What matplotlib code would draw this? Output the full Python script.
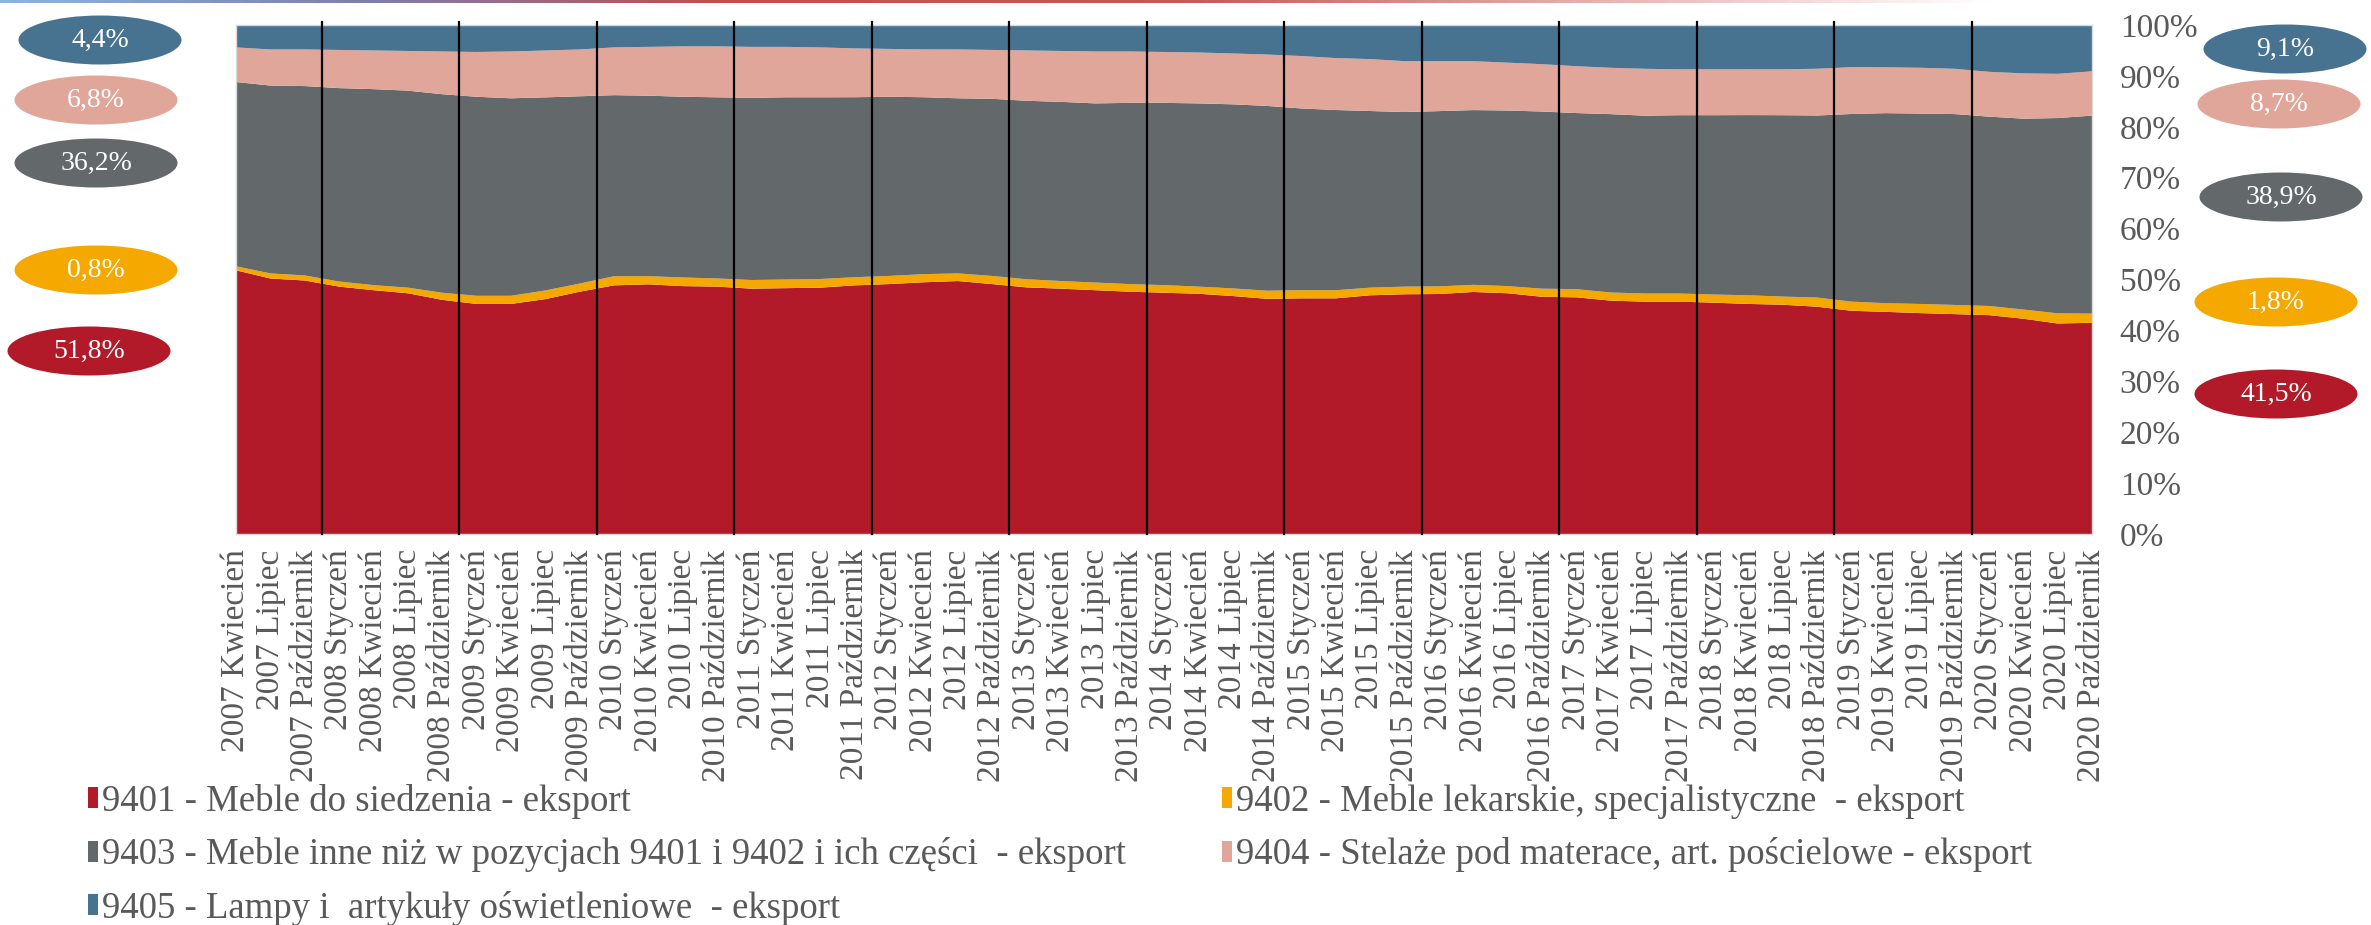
"""Export structure of furniture (HS 9401-9405), quarterly shares 2007-2020."""

import matplotlib
matplotlib.use("Agg")
import matplotlib.pyplot as plt
import numpy as np
from matplotlib.colors import LinearSegmentedColormap
from matplotlib.patches import Ellipse, Rectangle

W, H = 2371, 925

MONTHS = ["Styczeń", "Kwiecień", "Lipiec", "Październik"]
QUARTERS = [f"{y} {m}" for y in range(2007, 2021) for m in MONTHS][1:]

SERIES = [
    "9401 - Meble do siedzenia - eksport",
    "9402 - Meble lekarskie, specjalistyczne  - eksport",
    "9403 - Meble inne niż w pozycjach 9401 i 9402 i ich części  - eksport",
    "9404 - Stelaże pod materace, art. pościelowe - eksport",
    "9405 - Lampy i  artykuły oświetleniowe  - eksport",
]

# shares in %
S9401 = [51.8, 50.2, 49.8, 48.6, 47.9, 47.3, 46.0, 45.2, 45.2, 46.1,
         47.6, 48.9, 49.1, 48.7, 48.6, 48.2, 48.3, 48.4, 48.9, 49.1,
         49.5, 49.7, 49.1, 48.5, 48.2, 47.9, 47.6, 47.4, 47.2, 46.8,
         46.2, 46.3, 46.3, 46.9, 47.1, 47.1, 47.5, 47.3, 46.6, 46.5,
         45.8, 45.6, 45.6, 45.4, 45.2, 45.0, 44.7, 43.9, 43.6, 43.4,
         43.2, 43.0, 42.3, 41.4, 41.5]
S9402 = [0.8, 1.0, 1.0, 1.0, 1.0, 1.1, 1.4, 1.6, 1.6, 1.7,
         1.6, 1.8, 1.6, 1.7, 1.6, 1.7, 1.7, 1.7, 1.6, 1.6,
         1.6, 1.5, 1.6, 1.6, 1.5, 1.5, 1.5, 1.5, 1.4, 1.5,
         1.6, 1.6, 1.6, 1.5, 1.5, 1.5, 1.4, 1.4, 1.6, 1.6,
         1.6, 1.6, 1.6, 1.6, 1.7, 1.6, 1.8, 1.8, 1.7, 1.8,
         1.8, 1.8, 1.8, 2.0, 1.8]
S9403 = [36.2, 36.9, 37.2, 38.0, 38.5, 38.7, 39.0, 39.1, 38.8, 37.9,
         36.8, 35.6, 35.5, 35.5, 35.6, 35.8, 35.8, 35.7, 35.4, 35.2,
         34.8, 34.4, 34.8, 35.1, 35.2, 35.2, 35.6, 35.8, 36.0, 36.2,
         36.3, 35.7, 35.4, 34.7, 34.3, 34.4, 34.3, 34.5, 34.8, 34.6,
         35.0, 34.9, 35.0, 35.2, 35.4, 35.6, 35.8, 36.9, 37.3, 37.4,
         37.5, 37.2, 37.5, 38.4, 38.9]
S9404 = [6.8, 7.1, 7.2, 7.5, 7.6, 7.8, 8.4, 8.8, 9.2, 9.2,
         9.2, 9.4, 9.6, 9.9, 10.0, 10.0, 9.9, 9.8, 9.6, 9.4,
         9.4, 9.6, 9.6, 9.9, 10.0, 10.2, 10.1, 10.0, 10.0, 10.0,
         10.1, 10.3, 10.2, 10.2, 10.0, 9.8, 9.6, 9.4, 9.3, 9.2,
         9.1, 9.2, 9.0, 9.0, 9.0, 9.0, 9.2, 9.2, 9.0, 9.0,
         8.9, 8.8, 8.9, 8.7, 8.7]
S9405 = [4.4, 4.8, 4.8, 4.9, 5.0, 5.1, 5.2, 5.3, 5.2, 5.0,
         4.8, 4.4, 4.3, 4.2, 4.2, 4.3, 4.3, 4.4, 4.6, 4.7,
         4.8, 4.8, 4.9, 5.0, 5.1, 5.2, 5.2, 5.3, 5.4, 5.6,
         5.8, 6.1, 6.5, 6.7, 7.1, 7.1, 7.1, 7.4, 7.7, 8.1,
         8.4, 8.6, 8.7, 8.7, 8.7, 8.7, 8.6, 8.3, 8.3, 8.4,
         8.6, 9.2, 9.5, 9.6, 9.1]

COLOURS = ["#B31A29", "#F5A800", "#63686A", "#E0A69A", "#477391"]
TEXT_GREY = "#595959"

plt.rcParams.update({
    "font.family": ["Liberation Serif", "DejaVu Serif"],
    "font.size": 24,
})


def px(x, y):
    """pixel position (from top-left) -> figure fraction"""
    return x / W, 1 - y / H


fig = plt.figure(figsize=(W / 100, H / 100), dpi=100)
ax = fig.add_axes([236 / W, 1 - 534 / H, (2092 - 236) / W, (534 - 25) / H])

data = np.array([S9401, S9402, S9403, S9404, S9405], dtype=float)
data = data / data.sum(axis=0) * 100
x = np.arange(len(QUARTERS))
ax.stackplot(x, data, colors=COLOURS, linewidth=0)

# year separators, between October and January
for year_start in np.arange(2.5, len(QUARTERS) - 1, 4):
    ax.plot([year_start, year_start], [0, 100.6], color="black", lw=1.6,
            clip_on=False, zorder=3)

ax.set_xlim(0, len(QUARTERS) - 1)
ax.set_ylim(0, 100)
ax.set_xticks(x)
ax.set_xticklabels(QUARTERS, rotation=90, color=TEXT_GREY, fontsize=24)
ax.yaxis.tick_right()
ax.set_yticks(range(0, 101, 10))
ax.set_yticklabels([f"{v}%" for v in range(0, 101, 10)], color=TEXT_GREY,
                   fontsize=24)
ax.tick_params(axis="x", length=0, pad=11)
ax.tick_params(axis="y", length=0, pad=20)
for sp in ax.spines.values():
    sp.set_color("#D9D9D9")
    sp.set_linewidth(1)

# value bubbles: first and last quarter
LEFT_Y = [351, 270, 163, 100, 40]
LEFT_X = [89, 96, 96, 96, 100]
RIGHT_Y = [394, 302, 197, 104, 49]
RIGHT_X = [2276, 2276, 2281, 2279, 2285]
for i, col in enumerate(COLOURS):
    for cx, cy, val in ((LEFT_X[i], LEFT_Y[i], data[i, 0]),
                        (RIGHT_X[i], RIGHT_Y[i], data[i, -1])):
        fx, fy = px(cx, cy)
        fig.patches.append(Ellipse((fx, fy), 163 / W, 49 / H, facecolor=col,
                                   edgecolor="none",
                                   transform=fig.transFigure))
        fig.text(fx, fy, f"{val:.1f}%".replace(".", ","), ha="center",
                 va="center", color="white", fontsize=20)

# legend, two columns filled row by row
handles = [Rectangle((0, 0), 1, 1, facecolor=c, edgecolor="none")
           for c in COLOURS]
leg_kw = dict(frameon=False, borderpad=0, borderaxespad=0, fontsize=26.5,
              handlelength=0.26, handleheight=0.5, handletextpad=0.12,
              labelspacing=0.5, labelcolor=TEXT_GREY, loc="upper left")
fig.legend([handles[0], handles[2], handles[4]],
           [SERIES[0], SERIES[2], SERIES[4]],
           bbox_to_anchor=px(88, 784), **leg_kw)
fig.legend([handles[1], handles[3]], [SERIES[1], SERIES[3]],
           bbox_to_anchor=px(1222, 784), **leg_kw)

# thin gradient rule along the top edge
rule = fig.add_axes([0, 1 - 3 / H, 1, 3 / H])
rule_cmap = LinearSegmentedColormap.from_list(
    "rule", [(0, "#8DB3E2"), (0.15, "#7C7FB0"), (0.3, "#C0504D"),
             (0.5, "#C55A56"), (0.65, "#E3A6A3"), (0.84, "#FFFFFF"),
             (1, "#FFFFFF")])
rule.imshow(np.linspace(0, 1, 500)[None, :], aspect="auto", cmap=rule_cmap)
rule.axis("off")

fig.savefig("out.png", dpi=100)
